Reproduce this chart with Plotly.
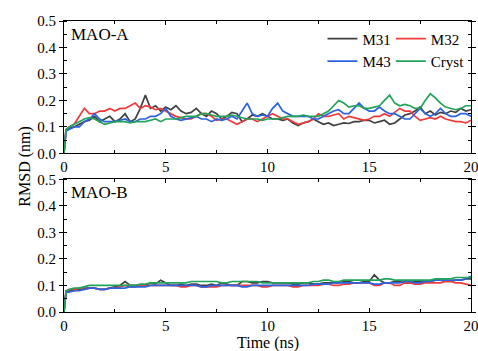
import plotly.graph_objects as go
from plotly.subplots import make_subplots

time_ns = [0, 0.1,
           0.25, 0.5, 0.75, 1, 1.25, 1.5, 1.75, 2, 2.25, 2.5, 2.75, 3, 3.25, 3.5, 3.75, 4, 4.25, 4.5, 4.75, 5,
           5.25, 5.5, 5.75, 6, 6.25, 6.5, 6.75, 7, 7.25, 7.5, 7.75, 8, 8.25, 8.5, 8.75, 9, 9.25, 9.5, 9.75, 10,
           10.25, 10.5, 10.75, 11, 11.25, 11.5, 11.75, 12, 12.25, 12.5, 12.75, 13, 13.25, 13.5, 13.75, 14, 14.25, 14.5, 14.75, 15,
           15.25, 15.5, 15.75, 16, 16.25, 16.5, 16.75, 17, 17.25, 17.5, 17.75, 18, 18.25, 18.5, 18.75, 19, 19.25, 19.5, 19.75, 20]

series_names = ["M31", "M32", "M43", "Cryst"]

# MAO-A panel (RMSD, nm)
maoa_m31 = [0, 0.09,
            0.095, 0.10, 0.11, 0.12, 0.125, 0.14, 0.12, 0.13, 0.14, 0.12, 0.13, 0.15, 0.12, 0.13, 0.17, 0.22, 0.17, 0.18, 0.16, 0.175,
            0.165, 0.18, 0.16, 0.15, 0.155, 0.17, 0.15, 0.14, 0.16, 0.15, 0.13, 0.14, 0.155, 0.15, 0.12, 0.13, 0.145, 0.14, 0.15, 0.14,
            0.13, 0.13, 0.125, 0.13, 0.115, 0.105, 0.115, 0.12, 0.13, 0.12, 0.11, 0.115, 0.105, 0.11, 0.115, 0.113, 0.12, 0.12, 0.125, 0.125,
            0.115, 0.12, 0.125, 0.11, 0.115, 0.13, 0.145, 0.15, 0.16, 0.175, 0.15, 0.16, 0.145, 0.155, 0.15, 0.16, 0.155, 0.17, 0.16, 0.165]
maoa_m32 = [0, 0.09,
            0.10, 0.11, 0.14, 0.17, 0.15, 0.15, 0.16, 0.16, 0.17, 0.16, 0.17, 0.17, 0.18, 0.19, 0.17, 0.18, 0.175, 0.165, 0.17, 0.16,
            0.15, 0.14, 0.135, 0.13, 0.13, 0.14, 0.15, 0.15, 0.14, 0.125, 0.13, 0.13, 0.12, 0.11, 0.12, 0.13, 0.13, 0.12, 0.13, 0.14,
            0.15, 0.14, 0.13, 0.13, 0.12, 0.11, 0.115, 0.12, 0.13, 0.15, 0.14, 0.14, 0.145, 0.15, 0.13, 0.14, 0.135, 0.13, 0.125, 0.13,
            0.14, 0.14, 0.15, 0.14, 0.155, 0.17, 0.16, 0.16, 0.14, 0.125, 0.13, 0.135, 0.13, 0.14, 0.13, 0.125, 0.12, 0.12, 0.115, 0.125]
maoa_m43 = [0, 0.085,
            0.09, 0.10, 0.10, 0.12, 0.13, 0.15, 0.13, 0.12, 0.12, 0.12, 0.125, 0.13, 0.12, 0.12, 0.13, 0.13, 0.14, 0.14, 0.15, 0.17,
            0.14, 0.13, 0.125, 0.13, 0.135, 0.14, 0.13, 0.13, 0.12, 0.13, 0.125, 0.13, 0.14, 0.13, 0.16, 0.19, 0.15, 0.14, 0.145, 0.14,
            0.17, 0.19, 0.16, 0.15, 0.14, 0.14, 0.14, 0.14, 0.13, 0.13, 0.14, 0.15, 0.16, 0.165, 0.15, 0.15, 0.17, 0.19, 0.17, 0.16,
            0.16, 0.175, 0.16, 0.15, 0.15, 0.14, 0.13, 0.13, 0.15, 0.17, 0.15, 0.14, 0.15, 0.17, 0.15, 0.14, 0.14, 0.15, 0.15, 0.14]
maoa_cryst = [0, 0.09,
              0.10, 0.11, 0.12, 0.13, 0.135, 0.13, 0.12, 0.11, 0.115, 0.12, 0.12, 0.12, 0.115, 0.12, 0.12, 0.12, 0.125, 0.13, 0.12, 0.13,
              0.13, 0.13, 0.135, 0.14, 0.14, 0.14, 0.15, 0.15, 0.145, 0.14, 0.14, 0.14, 0.145, 0.14, 0.135, 0.13, 0.13, 0.13, 0.125, 0.13,
              0.13, 0.13, 0.135, 0.14, 0.14, 0.14, 0.145, 0.14, 0.14, 0.14, 0.15, 0.16, 0.18, 0.20, 0.19, 0.175, 0.18, 0.18, 0.17, 0.17,
              0.175, 0.18, 0.20, 0.22, 0.19, 0.18, 0.185, 0.18, 0.17, 0.17, 0.20, 0.225, 0.21, 0.19, 0.175, 0.17, 0.165, 0.17, 0.18, 0.18]

# MAO-B panel (RMSD, nm)
maob_m31 = [0, 0.075,
            0.08, 0.08, 0.085, 0.09, 0.09, 0.09, 0.085, 0.085, 0.09, 0.095, 0.10, 0.115, 0.10, 0.10, 0.10, 0.10, 0.11, 0.105, 0.12, 0.11,
            0.10, 0.10, 0.105, 0.10, 0.105, 0.105, 0.10, 0.10, 0.105, 0.10, 0.11, 0.105, 0.10, 0.10, 0.115, 0.115, 0.11, 0.11, 0.115, 0.115,
            0.11, 0.11, 0.11, 0.11, 0.105, 0.105, 0.11, 0.11, 0.105, 0.105, 0.11, 0.11, 0.11, 0.11, 0.115, 0.115, 0.11, 0.11, 0.115, 0.115,
            0.14, 0.12, 0.11, 0.11, 0.115, 0.115, 0.11, 0.11, 0.115, 0.115, 0.115, 0.115, 0.12, 0.12, 0.115, 0.115, 0.12, 0.12, 0.125, 0.125]
maob_m32 = [0, 0.08,
            0.085, 0.085, 0.09, 0.085, 0.09, 0.09, 0.085, 0.085, 0.09, 0.09, 0.095, 0.10, 0.095, 0.095, 0.10, 0.10, 0.10, 0.10, 0.10, 0.10,
            0.10, 0.10, 0.095, 0.095, 0.10, 0.10, 0.095, 0.095, 0.095, 0.095, 0.10, 0.10, 0.10, 0.10, 0.10, 0.10, 0.10, 0.10, 0.095, 0.095,
            0.10, 0.10, 0.10, 0.10, 0.095, 0.095, 0.10, 0.10, 0.10, 0.10, 0.105, 0.105, 0.10, 0.10, 0.105, 0.105, 0.11, 0.11, 0.11, 0.11,
            0.10, 0.10, 0.11, 0.11, 0.10, 0.10, 0.11, 0.11, 0.105, 0.105, 0.11, 0.11, 0.11, 0.11, 0.115, 0.115, 0.11, 0.11, 0.105, 0.10]
maob_m43 = [0, 0.075,
            0.075, 0.08, 0.08, 0.085, 0.09, 0.09, 0.085, 0.085, 0.09, 0.09, 0.09, 0.09, 0.095, 0.095, 0.095, 0.095, 0.10, 0.10, 0.10, 0.10,
            0.10, 0.10, 0.10, 0.10, 0.10, 0.10, 0.095, 0.095, 0.10, 0.10, 0.10, 0.10, 0.10, 0.10, 0.095, 0.095, 0.10, 0.10, 0.10, 0.10,
            0.10, 0.10, 0.10, 0.10, 0.10, 0.10, 0.10, 0.10, 0.105, 0.105, 0.105, 0.105, 0.11, 0.11, 0.11, 0.11, 0.11, 0.11, 0.11, 0.11,
            0.105, 0.105, 0.11, 0.11, 0.11, 0.11, 0.115, 0.115, 0.11, 0.11, 0.115, 0.115, 0.12, 0.12, 0.12, 0.12, 0.12, 0.12, 0.125, 0.135]
maob_cryst = [0, 0.08,
              0.085, 0.09, 0.09, 0.095, 0.10, 0.10, 0.10, 0.10, 0.10, 0.10, 0.10, 0.10, 0.10, 0.10, 0.105, 0.105, 0.11, 0.11, 0.11, 0.11,
              0.11, 0.11, 0.11, 0.11, 0.115, 0.115, 0.115, 0.115, 0.115, 0.115, 0.11, 0.11, 0.115, 0.115, 0.115, 0.115, 0.115, 0.115, 0.11, 0.11,
              0.11, 0.11, 0.11, 0.11, 0.11, 0.11, 0.11, 0.11, 0.115, 0.115, 0.12, 0.12, 0.115, 0.115, 0.12, 0.12, 0.12, 0.12, 0.12, 0.12,
              0.12, 0.12, 0.125, 0.125, 0.12, 0.12, 0.12, 0.12, 0.12, 0.12, 0.12, 0.12, 0.125, 0.125, 0.125, 0.125, 0.13, 0.13, 0.13, 0.13]

colors = ["#404040", "#f03a3a", "#2b63e0", "#22a35a"]
legend_slots = ["legend", "legend2", "legend", "legend2"]   # two legend columns
panel_labels = ["MAO-A", "MAO-B"]
x_ticks = [0, 5, 10, 15, 20]
y_ticks = [0.0, 0.1, 0.2, 0.3, 0.4, 0.5]

FONT = "Liberation Serif"

fig = make_subplots(rows=2, cols=1, vertical_spacing=0.09)
panels = [[maoa_m31, maoa_m32, maoa_m43, maoa_cryst], [maob_m31, maob_m32, maob_m43, maob_cryst]]
for r, data in enumerate(panels, start=1):
    for name, vals, c, lg in zip(series_names, data, colors, legend_slots):
        fig.add_trace(go.Scatter(x=time_ns, y=vals, mode="lines", name=name,
                                 line=dict(color=c, width=1.7), legend=lg,
                                 showlegend=(r == 1)), row=r, col=1)

axis_common = dict(showline=True, linecolor="black", linewidth=1, mirror="allticks",
                   ticklen=4, tickcolor="black", showgrid=False, zeroline=False,
                   automargin=False, ticklabeloverflow="allow",
                   tickfont=dict(family=FONT, size=15, color="black"))
for r in (1, 2):
    fig.update_xaxes(range=[0, 20], tickvals=x_ticks, ticktext=[str(v) for v in x_ticks], ticks="inside",
                     minor=dict(ticks="inside", ticklen=3, dtick=2.5, tickcolor="black"),
                     row=r, col=1, **axis_common)
    fig.update_yaxes(range=[0, 0.5], tickvals=y_ticks, ticktext=[f"{v:.1f}" for v in y_ticks], ticks="outside",
                     minor=dict(ticks="inside", ticklen=3, dtick=0.05, tickcolor="black"),
                     row=r, col=1, **axis_common)

fig.update_layout(
    font=dict(family=FONT, color="black"),
    yaxis=dict(domain=[0.545, 1.0]),
    yaxis2=dict(domain=[0.0, 0.456]),
)

for i, lab in enumerate(panel_labels):
    ref = "" if i == 0 else "2"
    fig.add_annotation(x=0.012, y=0.985, xref=f"x{ref} domain", yref=f"y{ref} domain",
                       text=lab, showarrow=False, xanchor="left", yanchor="top",
                       font=dict(family=FONT, size=17, color="black"))

fig.add_annotation(x=-0.125, y=0.5, xref="paper", yref="paper", text="RMSD (nm)",
                   textangle=-90, showarrow=False, font=dict(family=FONT, size=16, color="black"))
fig.add_annotation(x=0.5, y=-0.107, xref="paper", yref="paper", text="Time (ns)",
                   showarrow=False, yanchor="middle", font=dict(family=FONT, size=16, color="black"))

legend_common = dict(orientation="v", yanchor="top", xanchor="left", tracegroupgap=0,
                     font=dict(family=FONT, size=15, color="black"), bgcolor="rgba(0,0,0,0)",
                     itemwidth=30)
fig.update_layout(
    width=478, height=351,
    margin=dict(l=64, r=7, t=21, b=39),
    paper_bgcolor="white", plot_bgcolor="white",
    legend=dict(x=0.635, y=0.995, **legend_common),
    legend2=dict(x=0.803, y=0.995, **legend_common),
)

fig.write_html("out.html", config={"displayModeBar": False},
               post_script="document.body.style.margin='0px';document.body.style.overflow='hidden';")
